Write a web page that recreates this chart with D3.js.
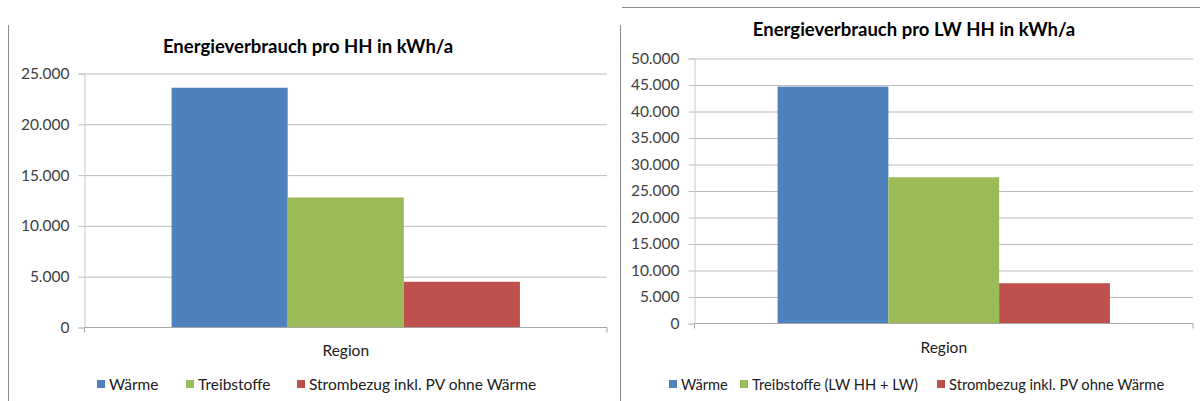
<!DOCTYPE html>
<html>
<head>
<meta charset="utf-8">
<script src="https://cdn.jsdelivr.net/npm/d3@7"></script>
<style>
  html, body { margin: 0; padding: 0; background: #fff; }
  svg { display: block; font-family: Lato, "Open Sans", sans-serif; }
</style>
</head>
<body>
<div id="chart"></div>
<script>
// Energieverbrauch – zwei Säulendiagramme nebeneinander (Excel-Stil)

const category = ["Region"];
const colors = ["#4f81bd", "#9bbb59", "#c0504d"];

const seriesLeft = ["Wärme", "Treibstoffe", "Strombezug inkl. PV ohne Wärme"];
const valuesLeft = [23600, 12800, 4500];
const ticksLeft = [0, 5000, 10000, 15000, 20000, 25000];

const seriesRight = ["Wärme", "Treibstoffe (LW HH + LW)", "Strombezug inkl. PV ohne Wärme"];
const valuesRight = [44700, 27600, 7600];
const ticksRight = [0, 5000, 10000, 15000, 20000, 25000, 30000, 35000, 40000, 45000, 50000];

const de = d3.formatLocale({ decimal: ",", thousands: ".", grouping: [3], currency: ["", " €"] });
const fmt = de.format(",.0f");

const W = 1200, H = 401;
const svg = d3.select("#chart").append("svg").attr("width", W).attr("height", H);

// frame lines of the screenshot
svg.append("line").attr("x1", 8.5).attr("x2", 8.5).attr("y1", 25).attr("y2", H)
  .attr("stroke", "#8c8c8c");
svg.append("line").attr("x1", 620.5).attr("x2", 620.5).attr("y1", 25).attr("y2", H)
  .attr("stroke", "#8c8c8c");
svg.append("line").attr("x1", 622).attr("x2", W).attr("y1", 7.5).attr("y2", 7.5)
  .attr("stroke", "#8c8c8c");

function drawChart(cfg) {
  const g = svg.append("g");

  const y = d3.scaleLinear()
    .domain([0, d3.max(cfg.ticks)])
    .range([cfg.bottom, cfg.top]);

  const x0 = d3.scaleBand().domain(category).range([cfg.left, cfg.right]).padding(0);
  const bw = x0.bandwidth();
  const x1 = d3.scaleBand().domain(cfg.series)
    .range([x0(category[0]) + bw / 6, x0(category[0]) + bw * 5 / 6]);

  const color = d3.scaleOrdinal().domain(cfg.series).range(colors);

  // grid
  g.append("g")
    .attr("transform", `translate(${cfg.left},0)`)
    .call(d3.axisLeft(y).tickValues(cfg.ticks.slice(1)).tickSize(-(cfg.right - cfg.left)).tickFormat(""))
    .call(a => a.select(".domain").remove())
    .call(a => a.selectAll("line").attr("stroke", "#bcbcbc"));

  // y axis
  g.append("g")
    .attr("transform", `translate(${cfg.left},0)`)
    .call(d3.axisLeft(y).tickValues(cfg.ticks).tickSize(6).tickPadding(9).tickFormat(fmt))
    .call(a => a.select(".domain").attr("stroke", "#c8c8c8"))
    .call(a => a.selectAll("line").attr("stroke", "#bcbcbc"))
    .call(a => a.selectAll("text")
      .style("font-size", "15.5px").style("font-family", "Lato, sans-serif").attr("fill", "#404040"));

  // bars
  g.selectAll(".bar")
    .data(cfg.series.map((s, i) => ({ s, v: cfg.values[i] })))
    .enter().append("rect")
    .attr("x", d => x1(d.s))
    .attr("y", d => y(d.v))
    .attr("width", x1.bandwidth())
    .attr("height", d => y(0) - y(d.v))
    .attr("fill", d => color(d.s));

  // x axis (category)
  g.append("g")
    .attr("transform", `translate(0,${cfg.bottom})`)
    .call(d3.axisBottom(x0).tickSize(0).tickFormat(""))
    .call(a => a.select(".domain").attr("stroke", "#a6a6a6")
      .attr("d", `M${cfg.left},5V0H${cfg.right}V5`));

  g.append("text")
    .attr("x", x0(category[0]) + bw / 2)
    .attr("y", cfg.regionY)
    .attr("text-anchor", "middle")
    .style("font-size", "15.5px")
    .attr("fill", "#202020")
    .text(category[0]);

  // title
  g.append("text")
    .attr("x", cfg.titleX)
    .attr("y", cfg.titleY)
    .attr("text-anchor", "middle")
    .style("font-size", "18.5px").style("font-weight", "700")
    .attr("fill", "#000")
    .text(cfg.title);

  // legend
  const lg = g.selectAll(".leg")
    .data(cfg.series)
    .enter().append("g")
    .attr("transform", (d, i) => `translate(${cfg.legendX[i]},${cfg.legendY})`);
  lg.append("rect").attr("x", 0).attr("y", -4).attr("width", 8).attr("height", 8)
    .attr("fill", d => color(d));
  lg.append("text").attr("x", 12).attr("y", 5.5)
    .style("font-size", cfg.legendSize).attr("fill", "#202020")
    .text(d => d);
}

drawChart({
  title: "Energieverbrauch pro HH in kWh/a",
  series: seriesLeft, values: valuesLeft, ticks: ticksLeft,
  left: 84.5, right: 607, top: 73.5, bottom: 327.5,
  titleX: 308, titleY: 53, regionY: 356,
  legendX: [97, 186, 297], legendY: 384, legendSize: "15.5px"
});

drawChart({
  title: "Energieverbrauch pro LW HH in kWh/a",
  series: seriesRight, values: valuesRight, ticks: ticksRight,
  left: 694.5, right: 1193, top: 58.5, bottom: 323.5,
  titleX: 914, titleY: 36, regionY: 353,
  legendX: [669, 740, 937], legendY: 384, legendSize: "14.7px"
});
</script>
</body>
</html>
